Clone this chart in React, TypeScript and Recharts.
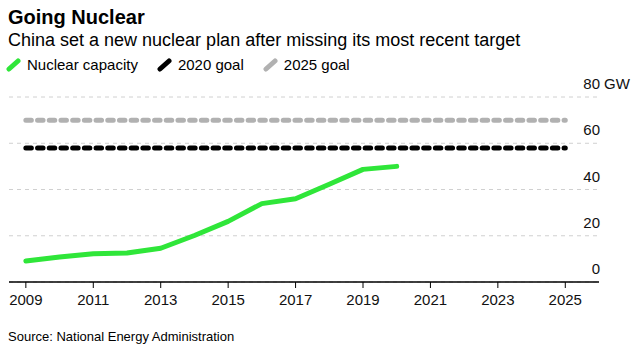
import React from "react";
import { LineChart, Line, XAxis, YAxis, CartesianGrid } from "recharts";

const years = [2009, 2010, 2011, 2012, 2013, 2014, 2015, 2016, 2017, 2018, 2019, 2020];
const capacity = [9.1, 10.8, 12.2, 12.5, 14.6, 20.1, 26.2, 33.9, 36.0, 42.3, 48.7, 50.0];
const goalYears = [2009, 2025];
const goal2020 = [58, 58];
const goal2025 = [70, 70];
const xTicks = [2009, 2011, 2013, 2015, 2017, 2019, 2021, 2023, 2025];
const yTicks = [0, 20, 40, 60, 80];

const capacityData = years.map((year, i) => ({ year, value: capacity[i] }));
const goal2020Data = goalYears.map((year, i) => ({ year, value: goal2020[i] }));
const goal2025Data = goalYears.map((year, i) => ({ year, value: goal2025[i] }));

const FONT = '"Liberation Sans", Arial, Helvetica, sans-serif';
const GREEN = "#2fe639";
const GRAY = "#b1b1b1";

function YTick(props: any) {
  const { x, y, payload } = props;
  return (
    <g>
      <text x={x + 1} y={y - 8} textAnchor="end" fontSize={15} fill="#111" fontFamily={FONT}>
        {payload.value}
      </text>
      {payload.value === 80 && (
        <text x={x + 5} y={y - 8} textAnchor="start" fontSize={15} fill="#111" fontFamily={FONT}>
          GW
        </text>
      )}
    </g>
  );
}

function LegendIcon({ color }: { color: string }) {
  return (
    <svg width={16} height={14} style={{ display: "inline-block", verticalAlign: "middle", marginRight: 5 }}>
      <line x1={3} y1={11} x2={12} y2={3} stroke={color} strokeWidth={5} strokeLinecap="round" />
    </svg>
  );
}

export default function App() {
  const legend = [
    { label: "Nuclear capacity", color: GREEN },
    { label: "2020 goal", color: "#000" },
    { label: "2025 goal", color: GRAY },
  ];
  return (
    <div style={{ position: "fixed", left: 0, top: 0, width: 639, height: 362, background: "#fff", fontFamily: FONT, color: "#000" }}>
      <div style={{ position: "absolute", left: 8, top: 5, fontSize: 20, fontWeight: 700, lineHeight: "24px" }}>Going Nuclear</div>
      <div style={{ position: "absolute", left: 8, top: 29, fontSize: 18, lineHeight: "22px" }}>
        China set a new nuclear plan after missing its most recent target
      </div>
      <div style={{ position: "absolute", left: 6, top: 56, fontSize: 15, lineHeight: "18px", display: "flex" }}>
        {legend.map((l) => (
          <span key={l.label} style={{ marginRight: 19, display: "inline-flex", alignItems: "center" }}>
            <LegendIcon color={l.color} />
            {l.label}
          </span>
        ))}
      </div>
      <div style={{ position: "absolute", left: 0, top: 0 }}>
        <LineChart width={639} height={320} margin={{ top: 97, right: 0, left: 9, bottom: 0 }}>
          <CartesianGrid vertical={false} stroke="#d0d0d0" strokeDasharray="4 4" />
          <XAxis
            dataKey="year"
            type="number"
            domain={[2008.5, 2026]}
            ticks={xTicks}
            allowDuplicatedCategory={false}
            height={38}
            tickSize={6}
            tickMargin={6}
            axisLine={{ stroke: "#000", strokeWidth: 1.5 }}
            tickLine={{ stroke: "#000" }}
            tick={{ fontSize: 15, fill: "#111", fontFamily: FONT }}
          />
          <YAxis
            orientation="right"
            domain={[0, 80]}
            ticks={yTicks}
            width={40}
            axisLine={false}
            tickLine={false}
            tickSize={0}
            tickMargin={0}
            tick={<YTick />}
          />
          <Line data={goal2025Data} dataKey="value" stroke={GRAY} strokeWidth={5} strokeDasharray="5.5 6.2" strokeLinecap="round" dot={false} isAnimationActive={false} />
          <Line data={goal2020Data} dataKey="value" stroke="#000" strokeWidth={5} strokeDasharray="5.5 6.2" strokeLinecap="round" dot={false} isAnimationActive={false} />
          <Line data={capacityData} dataKey="value" stroke={GREEN} strokeWidth={5} strokeLinecap="round" strokeLinejoin="round" dot={false} isAnimationActive={false} />
        </LineChart>
      </div>
      <div style={{ position: "absolute", left: 8, top: 329, fontSize: 13, lineHeight: "16px" }}>Source: National Energy Administration</div>
    </div>
  );
}
